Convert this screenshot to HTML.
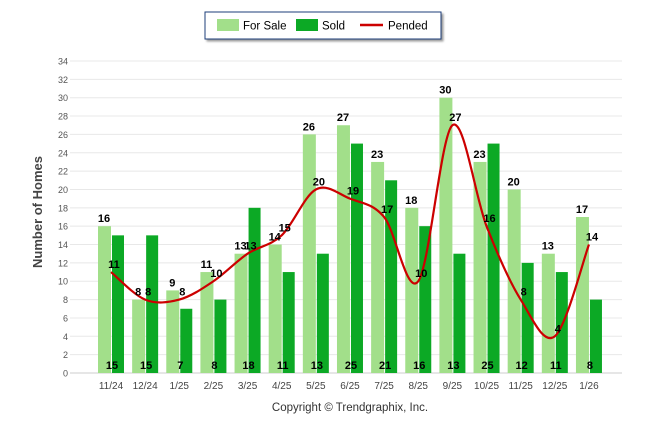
<!DOCTYPE html>
<html><head><meta charset="utf-8"><style>
body{margin:0;background:#fff;font-family:"Liberation Sans",sans-serif;}
</style></head><body>
<svg width="646" height="434" xmlns="http://www.w3.org/2000/svg">
<g id="grid"></g><g id="bars"></g><g id="line"></g><g id="labels"></g>
<rect x="205" y="12" width="236" height="27" fill="#fff" stroke="#1c3d7a" stroke-width="1" style="filter:drop-shadow(2px 2px 1px #999)"/>
<rect x="217" y="19" width="22" height="12" fill="#a2df8a"/>
<text x="243" y="29.5" font-size="11.5">For Sale</text>
<rect x="296" y="19" width="22" height="12" fill="#0ca925"/>
<text x="322" y="29.5" font-size="11.5">Sold</text>
<line x1="360" y1="25" x2="383" y2="25" stroke="#c00" stroke-width="2.5"/>
<text x="388" y="29.5" font-size="11.5">Pended</text>
<text transform="translate(42,212) rotate(-90)" text-anchor="middle" font-size="13" font-weight="bold" fill="#444">Number of Homes</text>
<text x="350" y="411" text-anchor="middle" font-size="11.5" fill="#333">Copyright © Trendgraphix, Inc.</text>
</svg>
<script>
const categories=["11/24","12/24","1/25","2/25","3/25","4/25","5/25","6/25","7/25","8/25","9/25","10/25","11/25","12/25","1/26"];
const forSale=[16,8,9,11,13,14,26,27,23,18,30,23,20,13,17];
const sold=[15,15,7,8,18,11,13,25,21,16,13,25,12,11,8];
const pended=[11,8,8,10,13,15,20,19,17,10,27,16,8,4,14];
const yTicks=[0,2,4,6,8,10,12,14,16,18,20,22,24,26,28,30,32,34];
const NS="http://www.w3.org/2000/svg";
const y=v=>373-v*312/34;
const x=i=>111+i*34.14;
function mk(p,tag,a){const e=document.createElementNS(NS,tag);for(const k in a)e.setAttribute(k,a[k]);document.getElementById(p).appendChild(e);return e;}
yTicks.forEach(t=>{
 const l=mk('grid','line',{x1:70,x2:622,y1:y(t),y2:y(t),stroke:t===0?'#ccc':'#e8e8e8'});
 
 
 const tx=mk('grid','text',{x:68,y:y(t)+3.5,'text-anchor':'end','font-size':9,fill:'#555'});tx.textContent=t;
 
 
});
categories.forEach((c,i)=>{
 const tx=mk('grid','text',{x:x(i),y:389,'text-anchor':'middle','font-size':10,fill:'#444'});tx.textContent=c;
 
 
 const b1=mk('bars','rect',{x:x(i)-13,y:y(forSale[i]),width:13,height:y(0)-y(forSale[i]),fill:'#a2df8a'});
 
 
 const b2=mk('bars','rect',{x:x(i)+1,y:y(sold[i]),width:12,height:y(0)-y(sold[i]),fill:'#0ca925'});
 
 
 const l1=mk('labels','text',{x:x(i)-7,y:y(forSale[i])-4,'text-anchor':'middle','font-size':11,'font-weight':'bold'});l1.textContent=forSale[i];
 
 
 const l2=mk('labels','text',{x:x(i)+1,y:369,'text-anchor':'middle','font-size':11,'font-weight':'bold'});l2.textContent=sold[i];
 
 
 const l3=mk('labels','text',{x:x(i)+3,y:y(pended[i])-4,'text-anchor':'middle','font-size':11,'font-weight':'bold'});l3.textContent=pended[i];
 
 
});
const pts=pended.map((v,i)=>[x(i),y(v)]);
let d=`M${pts[0][0]},${pts[0][1]}`;
for(let i=0;i<pts.length-1;i++){
 const p0=pts[Math.max(i-1,0)],p1=pts[i],p2=pts[i+1],p3=pts[Math.min(i+2,pts.length-1)];
 const t=1/3;
 const c1=[p1[0]+(p2[0]-p0[0])*t/2,p1[1]+(p2[1]-p0[1])*t/2];
 const c2=[p2[0]-(p3[0]-p1[0])*t/2,p2[1]-(p3[1]-p1[1])*t/2];
 d+=` C${c1[0]},${c1[1]} ${c2[0]},${c2[1]} ${p2[0]},${p2[1]}`;
}
const ln=mk('line','path',{d:d,fill:'none',stroke:'#c00',"stroke-width":2.2});


</script>
</body></html>
